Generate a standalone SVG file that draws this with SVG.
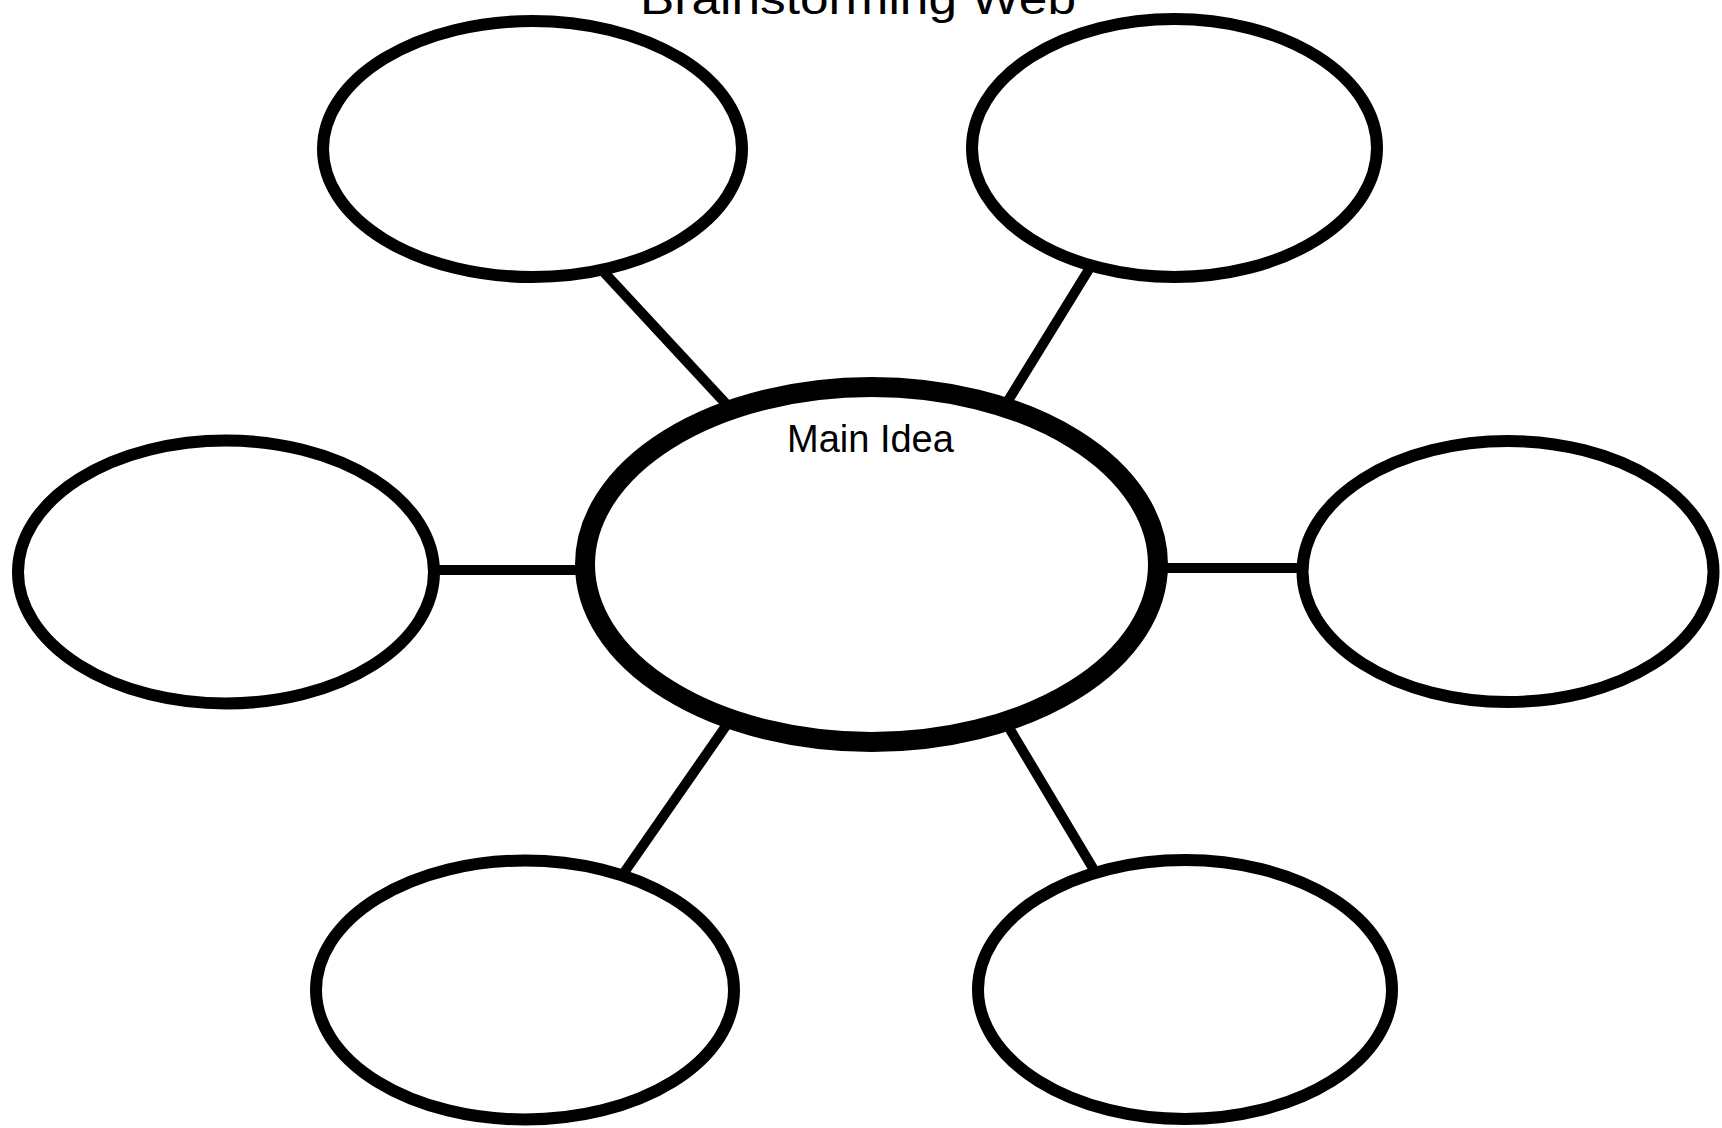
<svg xmlns="http://www.w3.org/2000/svg" width="1722" height="1128" viewBox="0 0 1722 1128">
<style>
.bg{fill:#ffffff}
.node{fill:#ffffff;stroke:#000000;stroke-width:12}
.main{fill:#ffffff;stroke:#000000;stroke-width:20}
.conn{stroke:#000000;stroke-width:10;fill:none}
.title{font-family:"Liberation Sans","DejaVu Sans",sans-serif;font-size:44px;fill:#000000}
.label{font-family:"Liberation Sans","DejaVu Sans",sans-serif;font-size:38px;fill:#000000}
</style>
<rect class="bg" x="0" y="0" width="1722" height="1128"/>
<text class="title" x="640" y="14" textLength="436" lengthAdjust="spacingAndGlyphs">Brainstorming Web</text>
<g id="connectors">
<line class="conn" x1="600" y1="268" x2="728" y2="406"/>
<line class="conn" x1="1091" y1="266" x2="1006" y2="404"/>
<line class="conn" x1="430" y1="570" x2="582" y2="570"/>
<line class="conn" x1="1160" y1="568" x2="1304" y2="568"/>
<line class="conn" x1="728" y1="723" x2="621" y2="877"/>
<line class="conn" x1="1005" y1="721" x2="1094" y2="870"/>
</g>
<g id="node-top-left"><ellipse class="node" cx="532.5" cy="149" rx="209.5" ry="128"/></g>
<g id="node-top-right"><ellipse class="node" cx="1174.5" cy="148" rx="202.5" ry="129"/></g>
<g id="node-left"><ellipse class="node" cx="226" cy="572" rx="208" ry="131.5"/></g>
<g id="node-right"><ellipse class="node" cx="1508" cy="571.5" rx="205.5" ry="130.5"/></g>
<g id="node-bottom-left"><ellipse class="node" cx="525" cy="990" rx="209" ry="129.5"/></g>
<g id="node-bottom-right"><ellipse class="node" cx="1185" cy="989.5" rx="207" ry="129.5"/></g>
<g id="node-main">
<ellipse class="main" cx="871.5" cy="564.5" rx="286.5" ry="177.5"/>
<rect x="780" y="410" width="178" height="56" fill="#ffffff"/>
<text class="label" x="787" y="452">Main Idea</text>
</g>
</svg>
